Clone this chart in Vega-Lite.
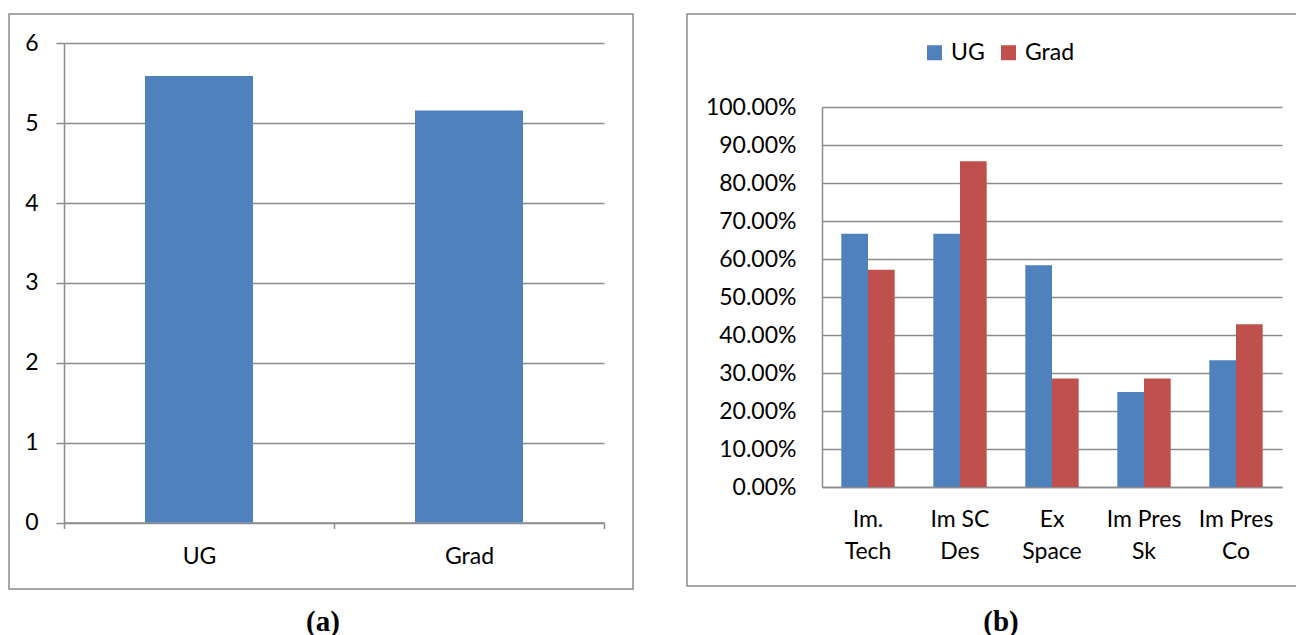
{
  "$schema": "https://vega.github.io/schema/vega-lite/v6.json",
  "padding": {"left": 8, "top": 13, "right": 0, "bottom": 0},
  "background": "white",
  "spacing": 52,
  "resolve": {"scale": {"color": "independent"}, "legend": {"color": "independent"}},
  "config": {
    "view": {"stroke": "#8a8a8a", "strokeWidth": 1.5},
    "axis": {"labelFont": "Lato", "labelFontSize": 23, "labelColor": "#000000", "domainColor": "#8c8c8c", "domainWidth": 1.5, "gridColor": "#8c8c8c", "gridWidth": 1.5, "gridOpacity": 1, "tickColor": "#8c8c8c", "tickWidth": 1.5, "title": null},
    "legend": {"labelFont": "Lato", "labelFontSize": 23, "labelColor": "#000000"},
    "title": {"font": "Liberation Serif", "fontSize": 29, "fontWeight": "bold", "color": "#000000"}
  },
  "hconcat": [
    {
      "width": 624,
      "height": 575,
      "title": {"text": "(a)", "orient": "bottom", "anchor": "middle", "offset": 19, "dx": 2},
      "data": {"values": [
        {"group": "UG", "value": 5.59},
        {"group": "Grad", "value": 5.16}
      ]},
      "mark": {"type": "bar", "color": "#4F81BD", "width": {"band": 0.4}},
      "encoding": {
        "x": {
          "field": "group", "type": "nominal", "sort": null,
          "scale": {"range": [55, 595], "paddingInner": 0, "paddingOuter": 0},
          "axis": {"orient": "bottom", "offset": -66.5, "tickBand": "extent", "ticks": true, "tickSize": 6, "labelPadding": 17, "labelAngle": 0, "grid": false}
        },
        "y": {
          "field": "value", "type": "quantitative",
          "scale": {"domain": [0, 6], "range": [508.5, 29.3], "nice": false, "zero": true},
          "axis": {"orient": "left", "offset": -55, "values": [0, 1, 2, 3, 4, 5, 6], "grid": true, "tickSize": 8, "labelPadding": 18}
        }
      }
    },
    {
      "width": 611,
      "height": 572,
      "title": {"text": "(b)", "orient": "bottom", "anchor": "middle", "offset": 22, "dx": 8.5},
      "data": {"values": [
        {"item": "Im. Tech", "level": "UG", "pct": 0.6667},
        {"item": "Im. Tech", "level": "Grad", "pct": 0.5714},
        {"item": "Im SC Des", "level": "UG", "pct": 0.6667},
        {"item": "Im SC Des", "level": "Grad", "pct": 0.8571},
        {"item": "Ex Space", "level": "UG", "pct": 0.5833},
        {"item": "Ex Space", "level": "Grad", "pct": 0.2857},
        {"item": "Im Pres Sk", "level": "UG", "pct": 0.25},
        {"item": "Im Pres Sk", "level": "Grad", "pct": 0.2857},
        {"item": "Im Pres Co", "level": "UG", "pct": 0.3333},
        {"item": "Im Pres Co", "level": "Grad", "pct": 0.4286}
      ]},
      "mark": {"type": "bar"},
      "encoding": {
        "x": {
          "field": "item", "type": "nominal", "sort": null,
          "scale": {"range": [135, 595], "paddingInner": 0.42, "paddingOuter": 0.21},
          "axis": {"orient": "bottom", "offset": -99, "ticks": false, "labelPadding": 21, "labelAngle": 0, "grid": false, "labelLineHeight": 32, "labelBaseline": "top",
            "labelExpr": "[slice(datum.label, 0, lastindexof(datum.label, ' ')), slice(datum.label, lastindexof(datum.label, ' ') + 1)]"}
        },
        "xOffset": {"field": "level", "type": "nominal", "sort": ["UG", "Grad"]},
        "y": {
          "field": "pct", "type": "quantitative",
          "scale": {"domain": [0, 1], "range": [473, 93], "nice": false},
          "axis": {"orient": "left", "offset": -135, "values": [0, 0.1, 0.2, 0.3, 0.4, 0.5, 0.6, 0.7, 0.8, 0.9, 1], "format": ".2%", "grid": true, "ticks": false, "labelPadding": 26}
        },
        "color": {
          "field": "level", "type": "nominal", "sort": ["UG", "Grad"],
          "scale": {"domain": ["UG", "Grad"], "range": ["#4F81BD", "#C0504D"]},
          "legend": {"orient": "none", "legendX": 236, "legendY": 27, "direction": "horizontal", "title": null, "symbolType": "square", "symbolSize": 225, "symbolStrokeWidth": 0, "symbolOpacity": 1, "labelOffset": 5, "columnPadding": 12}
        }
      }
    }
  ]
}
